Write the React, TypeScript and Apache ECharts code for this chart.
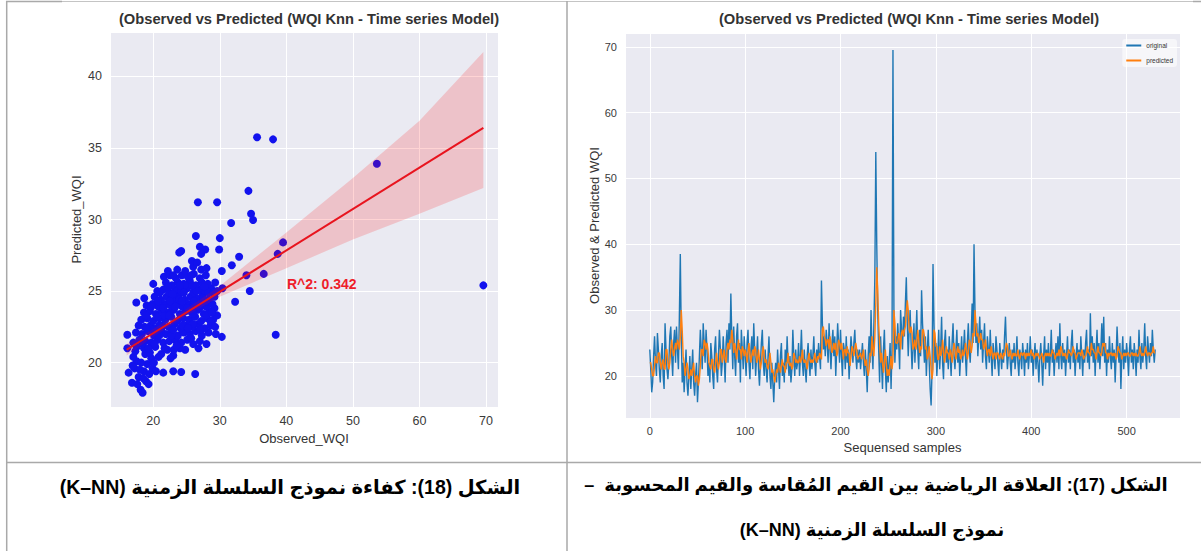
import React, { useEffect, useRef } from 'react';
import * as echarts from 'echarts';

// ---------- Left chart: observed vs predicted scatter ----------
const scatterPoints: number[][] = [
  [16.3,19.3],[16.8,18.6],[17.2,19.6],[17.5,20.1],[17.8,19.0],[18.1,18.1],[18.4,17.9],[18.6,19.4],[18.9,18.7],[19.1,19.9],
  [19.4,19.2],[19.7,20.3],[17.0,20.4],[18.2,20.0],[18.8,20.6],[19.9,19.6],[17.6,18.5],[18.5,18.9],[19.3,18.5],[20.1,20.0],
  [20.4,19.4],[16.9,19.8],[18.0,19.5],[21.5,19.3],[23.0,19.4],[24.2,19.35],[26.3,19.2],
  [16.1,21.0],[17.3,20.8],[18.6,21.0],[19.5,20.7],[20.3,21.1],[21.2,20.6],[22.1,20.9],[23.0,20.5],[24.0,21.0],[22.6,20.3],[20.8,20.4],
  [17.0,21.4],[17.9,21.6],[18.8,21.5],[19.7,21.4],[20.6,21.6],[21.5,21.4],[22.4,21.5],[23.3,21.6],[24.2,21.4],[25.1,21.6],[26.0,21.3],[27.0,21.5],[28.0,21.3],[16.1,21.95],
  [17.4,22.1],[18.3,22.0],[19.2,22.2],[20.1,21.9],[21.0,22.1],[21.9,22.0],[22.8,22.2],[23.7,21.9],[24.6,22.1],[25.5,22.0],[26.4,22.2],[27.3,21.9],[28.3,22.1],[30.3,21.8],[38.4,21.95],
  [17.8,22.6],[18.7,22.5],[19.6,22.6],[20.5,22.4],[21.4,22.6],[22.3,22.5],[23.2,22.7],[24.1,22.4],[25.0,22.6],[25.9,22.5],[26.8,22.7],[27.7,22.4],[28.6,22.6],[29.3,22.5],
  [18.2,23.0],[19.1,23.1],[20.0,22.9],[20.9,23.1],[21.8,23.0],[22.7,23.2],[23.6,22.9],[24.5,23.1],[25.4,23.0],[26.3,23.2],[27.2,22.9],[28.1,23.1],[29.0,23.0],[29.6,23.3],
  [18.6,23.5],[19.5,23.6],[20.4,23.4],[21.3,23.6],[22.2,23.5],[23.1,23.7],[24.0,23.4],[24.9,23.6],[25.8,23.5],[26.7,23.7],[27.6,23.4],[28.5,23.6],[29.2,23.8],
  [17.45,24.2],[19.0,24.0],[19.9,24.1],[20.8,23.9],[21.7,24.1],[22.6,24.0],[23.5,24.2],[24.4,23.9],[25.3,24.1],[26.2,24.0],[27.1,24.2],[28.0,23.9],[28.9,24.1],[32.3,24.25],
  [18.65,24.5],[20.2,24.6],[21.1,24.4],[22.0,24.6],[22.9,24.5],[23.8,24.7],[24.7,24.4],[25.6,24.6],[26.5,24.5],[27.4,24.7],[28.3,24.4],[29.2,24.6],
  [20.6,25.0],[21.5,25.1],[22.4,24.9],[23.3,25.1],[24.2,25.0],[25.1,25.2],[26.0,24.9],[26.9,25.1],[27.8,25.0],[28.7,25.2],[29.6,25.0],[34.5,25.0],[30.4,25.2],
  [20.0,25.5],[21.9,25.6],[22.8,25.4],[23.7,25.6],[24.6,25.5],[25.5,25.7],[26.4,25.4],[27.3,25.6],[28.2,25.5],[29.3,25.6],
  [21.6,26.0],[22.5,26.1],[23.4,25.9],[24.3,26.1],[25.2,26.0],[26.1,26.2],[27.0,25.9],[27.9,26.1],[30.3,26.4],[34.0,26.1],[36.6,26.2],
  [22.2,26.4],[23.6,26.5],[24.8,26.4],[26.0,26.7],[27.2,26.5],[28.0,26.6],[31.8,26.8],
  [25.8,27.1],[26.6,27.0],[23.9,27.7],[24.2,27.8],[27.0,28.1],[27.8,27.9],[26.4,28.85],[29.9,27.9],[30.0,28.7],[32.9,27.4],[27.2,27.6],
  [26.7,31.2],[29.6,31.2],[31.7,29.75],[34.7,30.4],[35.0,29.97],[34.3,32.0],[35.6,35.75],[38.0,35.6],[53.6,33.9],[69.6,25.4],[39.5,28.4],[38.7,27.6],
  [20.9,22.6],[22.5,23.4],[24.4,22.6],[25.9,23.9],[21.6,23.3],[23.9,24.4],[26.0,22.7],[27.5,24.5],[22.7,21.9],[19.9,22.3],[24.8,25.4],[26.8,24.0],[23.1,20.9],[25.7,21.7],[28.6,22.9],
  [17.5,21.1],[18.4,21.3],[19.3,21.0],[20.2,21.3],[21.7,21.0],[23.5,21.2],[24.8,20.9],[26.8,21.0],[19.0,22.4],[21.2,22.3],
  [23.0,22.3],[25.2,22.4],[27.0,22.3],[18.9,23.3],[20.6,23.2],[22.4,23.3],[24.2,23.3],[26.0,23.4],[27.9,23.3],[19.7,23.9],
  [21.5,23.8],[23.3,23.9],[25.1,23.8],[27.0,23.8],[28.8,23.5],[20.7,24.3],[22.5,24.3],[24.3,24.3],[26.1,24.3],[28.0,24.3],
  [21.0,24.9],[22.9,24.8],[24.6,24.9],[26.5,25.0],[28.3,24.9],[22.2,25.3],[24.0,25.4],[25.9,25.4],[27.7,25.3],[23.0,26.1],
  [25.7,26.1],[20.9,21.9],[29.0,24.9],[29.4,22.0],
];
const regX = [16, 69.6];
const regY = [20.9, 36.4];
const bandX = [16, 20, 25, 30, 40, 50, 60, 69.6];
const bandLower = [20.5, 21.8, 23.3, 24.6, 26.6, 28.6, 30.4, 32.2];
const bandUpper = [21.3, 22.35, 23.75, 25.35, 29.1, 32.9, 36.9, 41.7];
const r2Label = 'R^2: 0.342';

// ---------- Right chart: time series ----------
const originalWQI = [
  24,21,17.5,19,23,26,22,20,26.5,24, 21,19,23,25,20,18,28,24,21,19.5,
  22,26,27.5,23,20,25,27,22,27.5,24, 21,29,38.5,26,19,22,17.5,21,24,19,
  17,20,23,18,21,24,19,17,20,22, 16,19,23,27,24,21,28,25,22,27,
  24,20,22,19,25,23,20,18,24,26, 21,19,23,27,24,20,22,26,23,19,
  25,27,22,28,24,32.5,26,21,27.5,23, 20,26,28,22,25,19,27,24,21,26,
  23,20,25,27,22,19.5,24,26,21,28, 24,20,23,26,21,18.5,22,25,27,22,
  20,24,21,19,23,26,20,18,22,19, 16,20,22,19,24,21,18,23,25,20,
  22,19,24,21,26,22,20,23,19,21, 27,23,20,24,21,22,25,20,23,27,
  22,20,24,21,19,23,25,22,20,24, 21,23,26,22,20,24,22,25,23,21,
  34.5,28,24,26,23,27,25,22,28,24, 21,25,27,23,26,20,24,28,25,22,
  27,23,20,25,24,21,26,22,24,19.5, 23,26,24,22,25,27,23,21,24,22,
  24,21,23,25,22,20,24,21,17.5,23, 26,22,30,24,21,28,35,54,40,30,
  24,19,26,22,18,24,27,21,17.5,23, 19,22,25,18,24,69.5,30,22,26,24,
  28,25,21,30,27,24,29,26,31,35, 28,23,27,30,25,21,24,28,22,26,
  30,24,21,27,23,33,28,25,22,26, 20,24,27,22,18,15.5,21,37,28,22,
  25,20,23,27,21,24,29,22,19.5,25, 27,22,24,21,26,23,20,25,28,23,
  21,24,27,22,25,20,23,26,22,24, 27,23,20,25,28,24,22,26,31,25,
  40,30,25,28,23,26,29,24,27,22, 25,28,23,21,26,24,22,27,23,20,
  25,23,21,26,24,22,20,25,23,21, 24,22,26,29,24,21,23,25,22,20,
  24,22,25,21,23,26,22,20,24,23, 21,25,23,20,24,22,25,21,23,26,
  22,24,20,23,25,21,24,22,19,23, 25,22,18.5,23,26,21,24,22,25,20,
  23,27,22,24,20,23,25,22,26,21, 28,23,21,25,22,24,20,23,26,22,
  24,21,25,27,22,24,20,23,25,22, 24,21,26,23,20,24,22,25,27,22,
  24,21,29.5,23,26,22,25,20,24,27, 22,25,21,24,28,23,29,22,25,20,
  24,22,26,23,21,25,22,24,19,23, 27.5,24,22,25,18,23,26,21,24,22,
  25,23,20,24,26,22,24,21,25,23, 20,24,22,27,23,21,25,22,24,28,
  23,21,26,24,22,25,23,27,24,22, 24,
];
const predictedWQI = [
  22,22,21,20,20,21.5,23,22,22,23.5, 23.5,22,21,22,22.5,21,21,24,24,22,
  21,22,24,25.5,24,23,24,25,24,25.5, 25,24,26,30,27,23,22,20,21,22,
  21,19.5,20,21,20,21,22,20,19,20, 20,18.5,19.5,21.5,24,24,23,25.5,25,24,
  25,24,22,21.5,21,22.5,22.5,21,20.5,22, 23.5,22,21,22,24,24,22,23,24,22.5,
  22,24,25,24,25.5,25,27,25.5,23.5,25, 24,22.5,24,25.5,24,24,22.5,24.5,24,23,
  24,23.5,22,23.5,25,23.5,22,23,24,23, 24.5,24,22,22.5,24,22.5,21,22,23.5,24.5,
  23,22,22.5,21.5,21,22,23.5,22,20.5,21, 20,19,20,21,20.5,22,21.5,20.5,21.5,22.5,
  21.5,21.5,20.5,22,22,23.5,22,21.5,22,21, 21.5,23.5,23,22,22.5,22,22,23,22,22.5,
  24,22.5,22,22.5,22,21,22.5,23.5,22.5,22, 22.5,22,22.5,23.5,22.5,22,23,22.5,23.5,23,
  22.5,27,27.5,26,25.5,24.5,25.5,25.5,24,26, 25,23.5,24,25,24,25,23,23.5,25.5,25,
  24,25,24,22.5,24,24,23,24.5,23.5,23.5, 21.5,23,24.5,24,23,24,25,24,22.5,23,
  23,23.5,22.5,23,24,22.5,21.5,22.5,21,20, 21,23.5,23,26,24,23,26,31,36.5,33,
  28,25,22,23.5,22,20.5,22,24,22,20, 21,20,21.5,23,21,22.5,30,28,25,25,
  25,26.5,26,24,26.5,27,26,27,27.5,29.5, 31.5,30,27,26.5,27.5,26.5,24,24.5,25.5,24,
  25,27,25.5,23.5,24.5,24,27,27,26,24, 24.5,22.5,23,24.5,23,21,19.5,21,27,26.5,
  24.5,24.5,22.5,22.5,24.5,23,23.5,25.5,24,22, 23,24.5,23.5,23.5,22.5,24,23.5,22,23.5,25,
  24,22.5,23.5,24.5,23.5,24,22.5,23,24,23, 23.5,25,24,22.5,23.5,25.5,25,23.5,24.5,26.5,
  26,30,28,26,26.5,25,25.5,26.5,25.5,25.5, 24,24.5,25.5,24,23,24,24,23,24.5,23.5,
  22.5,23.5,23.5,22.5,23.5,23.5,23,22.5,23.5,23, 22.5,23.5,23,24,25,24.5,23,23,24,23,
  22.5,23.5,23,23.5,23,23,24,23,22.5,23.5, 23.5,23,23.5,23.5,22.5,23.5,23,23.5,23,23.5,
  24,23,23.5,22.5,23,23.5,23,23.5,23,22.5, 23,23.5,23,22,23,23.5,23,23.5,23,23.5,
  23,23,24,23.5,23.5,22.5,23,23.5,23,24, 23,24.5,24,23,23.5,23,23.5,22.5,23,24,
  23.5,23.5,23,23.5,24.5,23.5,23.5,22.5,23,23.5, 23.5,23.5,23,24,23.5,22.5,23,23,23.5,24.5,
  23.5,23.5,23,25,24,24,23.5,23.5,22.5,23.5, 24.5,23.5,23.5,23,23.5,25,24.5,25,23.5,23.5,
  22.5,23.5,23,23.5,23.5,23,23.5,23,23.5,22.5, 23,24.5,24,23.5,23.5,22.5,23,23.5,23,23.5,
  23,23.5,23.5,23,23,23.5,23.5,23,23.5,23, 23.5,23,23,23.5,24.5,23.5,23,23.5,23,23.5,
  24.5,23.5,23,23.5,23.5,23,23.5,23.5,24.5,23.5, 23.5,
];

const chartTitle = '(Observed vs Predicted (WQI Knn - Time series Model)';
const caption18 = 'الشكل (18): كفاءة نموذج السلسلة الزمنية (K–NN)';
const caption17a = 'الشكل (17): العلاقة الرياضية بين القيم المُقاسة والقيم المحسوبة  –';
const caption17b = 'نموذج السلسلة الزمنية (K–NN)';

const RLE = '\u202B';
const PDF = '\u202C';
const SANS = "'Liberation Sans', Arial, sans-serif";
const CAPTION_FAMILY = "'Liberation Sans', 'DejaVu Sans', sans-serif";
const BG = '#EAEAF2';

export default function App() {
  const ref = useRef<HTMLDivElement>(null);
  useEffect(() => {
    const chart = echarts.init(ref.current!, null, { renderer: 'svg' });
    const splitLine = { show: true, lineStyle: { color: '#ffffff', width: 1 } };
    const hideAxis = { axisLine: { show: false }, axisTick: { show: false } };
    const mult = (m: number) => (v: number) => (Math.abs(v / m - Math.round(v / m)) < 1e-6 ? String(v) : '');
    const leftTick = { color: '#3a3a3a', fontSize: 12.5, fontFamily: SANS };
    const rightTick = { color: '#3a3a3a', fontSize: 11, fontFamily: SANS };
    const titleStyle = { fontSize: 14.7, fontWeight: 'bold', color: '#333', fontFamily: SANS };

    const option: any = {
      animation: false,
      backgroundColor: '#ffffff',
      title: [
        { text: chartTitle, left: 304, top: 6, textAlign: 'center', textStyle: titleStyle },
        { text: chartTitle, left: 904, top: 6, textAlign: 'center', textStyle: titleStyle },
      ],
      legend: {
        data: ['original', 'predicted'],
        orient: 'vertical', align: 'left',
        right: 24, top: 39,
        itemWidth: 15, itemHeight: 2, itemGap: 8,
        icon: 'rect',
        padding: [3, 4],
        backgroundColor: 'rgba(255,255,255,0.55)',
        borderRadius: 3,
        textStyle: { fontSize: 6.5, color: '#333', fontFamily: SANS },
      },
      grid: [
        { left: 110, top: 32, width: 388, height: 375, show: true, backgroundColor: BG, borderWidth: 0 },
        { left: 625, top: 33, width: 555, height: 385, show: true, backgroundColor: BG, borderWidth: 0 },
      ],
      xAxis: [
        { type: 'value', gridIndex: 0, min: 13.5, max: 71.8, splitNumber: 5, ...hideAxis, splitLine,
          axisLabel: { ...leftTick, margin: 7, formatter: mult(10), showMinLabel: false, showMaxLabel: false },
          name: 'Observed_WQI', nameLocation: 'middle', nameGap: 22,
          nameTextStyle: { fontSize: 13, color: '#333', fontFamily: SANS } },
        { type: 'value', gridIndex: 1, min: -26, max: 556, splitNumber: 5, ...hideAxis, splitLine,
          axisLabel: { ...rightTick, margin: 7, formatter: mult(100), showMinLabel: false, showMaxLabel: false },
          name: 'Sequensed samples', nameLocation: 'middle', nameGap: 20,
          nameTextStyle: { fontSize: 13, color: '#333', fontFamily: SANS } },
      ],
      yAxis: [
        { type: 'value', gridIndex: 0, min: 16.9, max: 43.1, splitNumber: 5, ...hideAxis, splitLine,
          axisLabel: { ...leftTick, margin: 8, formatter: mult(5), showMinLabel: false, showMaxLabel: false },
          name: 'Predicted_WQI', nameLocation: 'middle', nameGap: 27,
          nameTextStyle: { fontSize: 13, color: '#333', fontFamily: SANS } },
        { type: 'value', gridIndex: 1, min: 13.6, max: 72.1, splitNumber: 5, ...hideAxis, splitLine,
          axisLabel: { ...rightTick, margin: 8, formatter: mult(10), showMinLabel: false, showMaxLabel: false },
          name: 'Observed & Predicted WQI', nameLocation: 'middle', nameGap: 22,
          nameTextStyle: { fontSize: 13, color: '#333', fontFamily: SANS } },
      ],
      series: [
        { type: 'scatter', name: 'points', xAxisIndex: 0, yAxisIndex: 0, z: 2,
          data: scatterPoints, symbolSize: 8,
          itemStyle: { color: '#1212ee', opacity: 1 } },
        { type: 'custom', name: 'ci', xAxisIndex: 0, yAxisIndex: 0, z: 3, silent: true, clip: true,
          data: [[bandX[0], bandLower[0]]],
          renderItem: (_p: any, api: any) => {
            const pts: number[][] = [];
            for (let i = 0; i < bandX.length; i++) pts.push(api.coord([bandX[i], bandUpper[i]]));
            for (let i = bandX.length - 1; i >= 0; i--) pts.push(api.coord([bandX[i], bandLower[i]]));
            return { type: 'polygon', shape: { points: pts }, style: { fill: 'rgba(255,0,0,0.17)' } };
          } },
        { type: 'line', name: 'fit', xAxisIndex: 0, yAxisIndex: 0, z: 4, showSymbol: false,
          data: regX.map((x, i) => [x, regY[i]]),
          lineStyle: { color: '#e8141e', width: 2 } },
        { type: 'line', name: 'original', xAxisIndex: 1, yAxisIndex: 1, z: 2, showSymbol: false,
          data: originalWQI.map((v, i) => [i, v]),
          color: '#1f77b4', lineStyle: { color: '#1f77b4', width: 1.4 } },
        { type: 'line', name: 'predicted', xAxisIndex: 1, yAxisIndex: 1, z: 3, showSymbol: false,
          data: predictedWQI.map((v, i) => [i, v]),
          color: '#ff7f0e', lineStyle: { color: '#ff7f0e', width: 1.4 } },
      ],
      graphic: [
        { type: 'text', left: 287, top: 277, z: 10,
          style: { text: r2Label, fill: '#ee1d2a', font: `bold 14px ${SANS}` } },
        // table borders
        { type: 'line', shape: { x1: 6, y1: 1.5, x2: 62, y2: 1.5 }, style: { stroke: '#a9a9a9', lineWidth: 1.5 } },
        { type: 'line', shape: { x1: 62, y1: 1.5, x2: 1193, y2: 1.5 }, style: { stroke: '#c4c4c4', lineWidth: 1 } },
        { type: 'line', shape: { x1: 1193, y1: 1.5, x2: 1201, y2: 1.5 }, style: { stroke: '#a9a9a9', lineWidth: 1.5 } },
        { type: 'line', shape: { x1: 6.7, y1: 1, x2: 6.7, y2: 551 }, style: { stroke: '#a9a9a9', lineWidth: 1.5 } },
        { type: 'line', shape: { x1: 567, y1: 1, x2: 567, y2: 551 }, style: { stroke: '#a9a9a9', lineWidth: 1.5 } },
        { type: 'line', shape: { x1: 6, y1: 462.5, x2: 1201, y2: 462.5 }, style: { stroke: '#a9a9a9', lineWidth: 1.5 } },
        // captions
        { type: 'text', x: 290, y: 487, z: 10,
          style: { text: RLE + caption18 + PDF, fill: '#000', align: 'center', verticalAlign: 'middle',
            font: `bold 19.5px ${CAPTION_FAMILY}` } },
        { type: 'text', x: 876, y: 485, z: 10,
          style: { text: RLE + caption17a + PDF, fill: '#000', align: 'center', verticalAlign: 'middle',
            font: `bold 18px ${CAPTION_FAMILY}` } },
        { type: 'text', x: 872, y: 530, z: 10,
          style: { text: RLE + caption17b + PDF, fill: '#000', align: 'center', verticalAlign: 'middle',
            font: `bold 18px ${CAPTION_FAMILY}` } },
      ],
    };
    chart.setOption(option);
    return () => chart.dispose();
  }, []);
  return (
    <div
      ref={ref}
      style={{ position: 'absolute', left: 0, top: 0, width: 1201, height: 551, background: '#fff', overflow: 'hidden' }}
    />
  );
}
